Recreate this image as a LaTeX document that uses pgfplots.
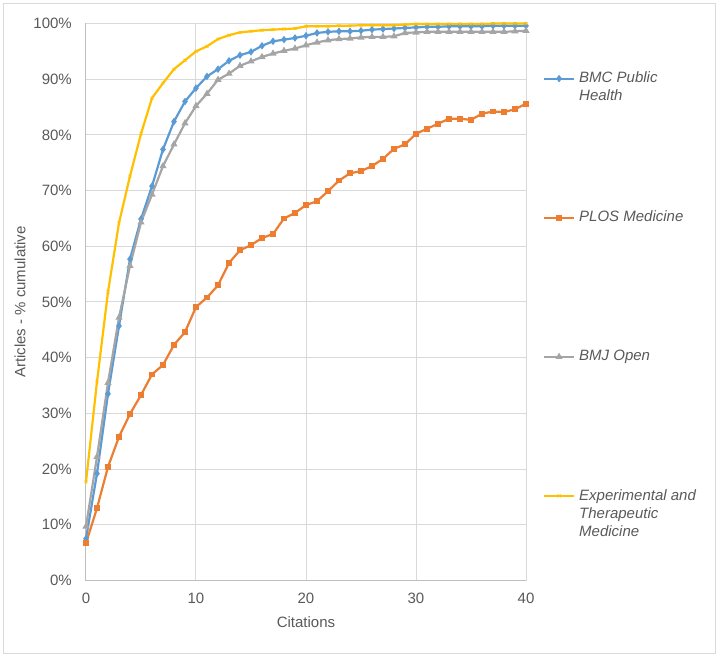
\documentclass[border=0pt]{standalone}
\usepackage{fontspec}
\setmainfont{Liberation Sans}
\usepackage{pgfplots}
\usepackage{pgfplotstable}
\pgfplotsset{compat=1.18}

\definecolor{bmc}{HTML}{5B9BD5}
\definecolor{plos}{HTML}{ED7D31}
\definecolor{bmj}{HTML}{A5A5A5}
\definecolor{etm}{HTML}{FFC000}
\definecolor{txt}{HTML}{595959}
\definecolor{grd}{HTML}{D9D9D9}
\definecolor{axl}{HTML}{BFBFBF}

% cumulative share of articles (%) by number of citations
\pgfplotstableread{
x  bmc   plos  bmj   etm
0  7.5   6.7   9.7   17.7
1  19.2  13.0  22.2  35.7
2  33.5  20.4  35.5  51.8
3  45.7  25.8  47.2  64.2
4  57.7  29.9  56.5  72.6
5  64.9  33.3  64.3  80.2
6  70.8  37.0  69.3  86.6
7  77.4  38.7  74.4  89.3
8  82.4  42.3  78.3  91.8
9  86.0  44.6  82.1  93.4
10 88.4  49.1  85.2  95.0
11 90.5  50.8  87.4  95.9
12 91.8  53.0  89.9  97.2
13 93.3  57.0  91.0  97.9
14 94.3  59.3  92.4  98.4
15 94.9  60.2  93.2  98.6
16 96.0  61.5  94.0  98.8
17 96.8  62.2  94.6  98.9
18 97.1  65.0  95.1  99.0
19 97.4  66.0  95.5  99.1
20 97.8  67.4  96.1  99.5
21 98.3  68.1  96.6  99.5
22 98.5  69.9  97.0  99.5
23 98.6  71.8  97.2  99.6
24 98.6  73.1  97.3  99.6
25 98.7  73.5  97.5  99.7
26 98.9  74.4  97.6  99.7
27 99.0  75.7  97.6  99.7
28 99.1  77.5  97.7  99.7
29 99.2  78.3  98.3  99.8
30 99.3  80.2  98.4  99.9
31 99.4  81.1  98.5  99.9
32 99.4  82.0  98.5  99.9
33 99.5  82.9  98.5  99.9
34 99.5  82.9  98.5  99.9
35 99.5  82.7  98.5  99.9
36 99.5  83.8  98.5  99.9
37 99.6  84.2  98.5  100
38 99.6  84.1  98.5  100
39 99.6  84.6  98.6  100
40 99.6  85.6  98.7  100
}\data

% legend text: fixed-height box, text at the top
\newcommand\lgd[1]{\parbox[b][137.6bp][t]{123bp}{\fontsize{15bp}{18bp}\selectfont\raggedright\itshape #1}}

\begin{document}
\begin{tikzpicture}
\begin{axis}[
  scale only axis, width=440bp, height=557bp,
  xmin=0, xmax=40, ymin=0, ymax=100,
  xtick={0,10,...,40}, ytick={0,10,...,100},
  grid=major, major grid style={grd, line width=1bp},
  axis x line*=bottom, axis y line*=left,
  axis line style={axl, line width=1bp, -},
  major tick length=0pt,
  /pgf/number format/assume math mode=true,
  tick label style={font=\fontsize{15bp}{18bp}\selectfont, text=txt, inner sep=0pt},
  yticklabel={\pgfmathprintnumber{\tick}\%},
  yticklabel style={anchor=east, xshift=-14bp},
  xticklabel style={anchor=north, yshift=-12.5bp},
  xlabel={Citations}, ylabel={Articles - \% cumulative},
  label style={font=\fontsize{15bp}{18bp}\selectfont, text=txt, inner sep=0pt},
  xlabel style={at={(axis description cs:0.5,-0.074)}, anchor=center},
  ylabel style={at={(axis description cs:-0.15,0.5)}, anchor=center},
  clip=false,
  legend cell align=left,
  legend style={at={(rel axis cs:1.0386,0.913)}, anchor=north west,
    draw=none, fill=none, inner sep=0pt, outer sep=0pt,
    nodes={inner sep=0pt, text=txt}, column sep=4bp, row sep=0pt},
  legend image code/.code={\draw[mark repeat=2,mark phase=2,#1]
    plot coordinates {(0bp,62.9bp)(15bp,62.9bp)(30bp,62.9bp)};},
  every axis plot/.append style={line width=2.2bp, mark size=2bp},
]
\addplot[bmc, mark=diamond*, mark options={solid}] table[x=x, y=bmc]{\data};
\addlegendentry{\lgd{BMC Public Health}}
\addplot[plos, mark=square*, mark size=1.8bp, mark options={solid}] table[x=x, y=plos]{\data};
\addlegendentry{\lgd{PLOS Medicine}}
\addplot[bmj, mark=triangle*, mark options={solid}] table[x=x, y=bmj]{\data};
\addlegendentry{\lgd{BMJ Open}}
\addplot[etm, mark=x, mark options={solid, line width=0.9bp}] table[x=x, y=etm]{\data};
\addlegendentry{\lgd{Experimental and Therapeutic Medicine}}

\path (rel axis cs:-0.19545,-0.13914) rectangle (rel axis cs:1.44091,1.04219);
\draw[grd, line width=1bp] (rel axis cs:-0.18636,-0.13016) rectangle (rel axis cs:1.42955,1.03501);
\end{axis}
\end{tikzpicture}
\end{document}
